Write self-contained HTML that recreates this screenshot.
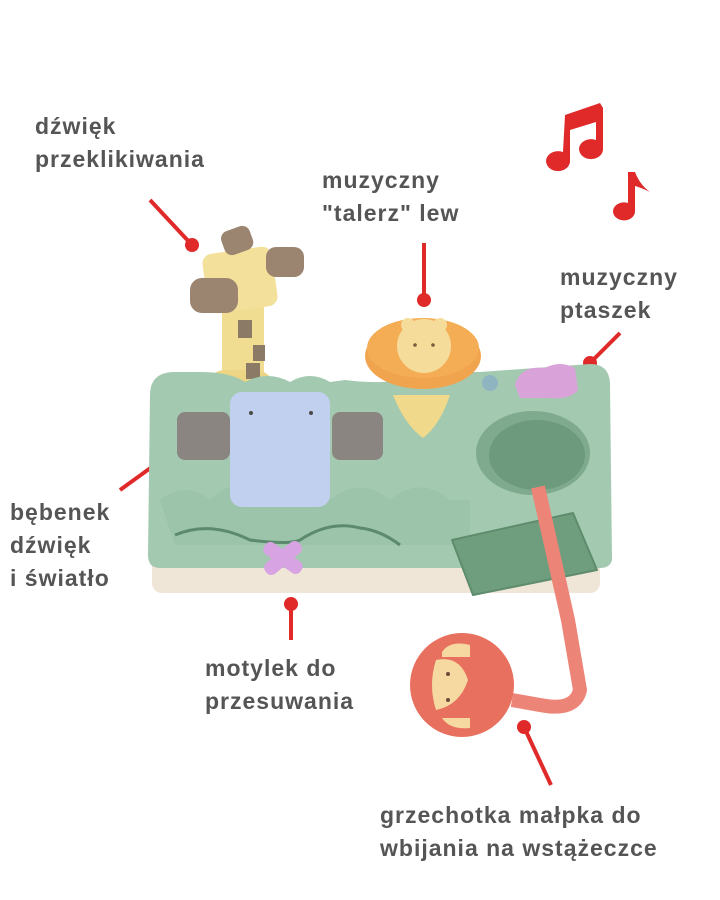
<!DOCTYPE html>
<html><head><meta charset="utf-8"><style>
html,body{margin:0;padding:0;background:#fff;}
body{width:720px;height:900px;position:relative;overflow:hidden;font-family:"Liberation Sans",sans-serif;}
.t{position:absolute;font-weight:bold;font-size:23px;color:#555;line-height:33px;white-space:nowrap;letter-spacing:1px}
svg{position:absolute;left:0;top:0}
</style></head><body>
<svg width="720" height="900" viewBox="0 0 720 900">
<!-- music notes -->
<g fill="#e02a2a">
<path d="M565 115 L600 103 L603 108 L603 150 A12 10 0 1 1 596 140 L596 122 L570 130 L570 162 A12 10 0 1 1 563 152 Z"/>
<path d="M628 172 L635 172 Q640 185 650 192 Q642 188 635 186 L635 212 A11 9 0 1 1 628 203 Z"/>
</g>
<!-- connector lines -->
<g stroke="#e02a2a" stroke-width="4" fill="#e02a2a">
<line x1="150" y1="200" x2="192" y2="245"/><circle cx="192" cy="245" r="5"/>
<line x1="424" y1="243" x2="424" y2="300"/><circle cx="424" cy="300" r="5"/>
<line x1="620" y1="333" x2="590" y2="363"/><circle cx="590" cy="363" r="5"/>
<line x1="120" y1="490" x2="192" y2="438"/><circle cx="192" cy="438" r="5"/>
<line x1="291" y1="640" x2="291" y2="604"/><circle cx="291" cy="604" r="5"/>
<line x1="551" y1="785" x2="524" y2="727"/><circle cx="524" cy="727" r="5"/>
</g>
<!-- cream base -->
<rect x="152" y="555" width="448" height="38" rx="10" fill="#f0e6d8"/>
<!-- giraffe -->
<rect x="222" y="290" width="42" height="110" rx="14" fill="#f1dd92"/>
<rect x="205" y="370" width="70" height="50" rx="20" fill="#ecd584"/>
<rect x="238" y="320" width="14" height="18" fill="#8b7a66"/>
<rect x="253" y="345" width="12" height="16" fill="#8b7a66"/>
<rect x="246" y="363" width="14" height="16" fill="#8b7a66"/>
<rect x="205" y="250" width="70" height="60" rx="10" fill="#f3e09a" transform="rotate(-8 240 280)"/>
<rect x="190" y="278" width="48" height="35" rx="12" fill="#9b8470"/>
<rect x="266" y="247" width="38" height="30" rx="10" fill="#9b8470"/>
<rect x="222" y="228" width="30" height="25" rx="8" fill="#9b8470" transform="rotate(-20 237 240)"/>
<!-- green body -->
<path d="M150 395 Q150 372 175 372 L200 372 Q230 372 245 382 Q268 370 290 382 Q310 370 330 382 L345 380 Q380 385 420 378 Q445 360 470 372 L480 372 L590 364 Q610 364 610 385 L612 560 Q610 568 600 568 L160 568 Q148 568 148 555 Z" fill="#a3c9b0"/>
<path d="M160 500 Q185 480 210 500 Q240 470 270 500 Q300 475 330 500 Q360 475 390 500 Q420 475 450 500 L470 500 L470 545 L175 545 Z" fill="#9cc4aa"/>
<path d="M175 535 Q210 520 250 540 Q290 545 300 540 Q330 520 360 528 Q380 530 400 545" stroke="#5c8a6e" stroke-width="3" fill="none"/>
<!-- hole -->
<ellipse cx="533" cy="453" rx="57" ry="42" fill="#7faa8e"/>
<ellipse cx="537" cy="455" rx="48" ry="35" fill="#6d9a7d"/>
<!-- lion stem -->
<path d="M393 395 L450 395 Q440 425 423 438 Q405 425 393 395 Z" fill="#f0d98a"/>
<!-- lion -->
<ellipse cx="423" cy="356" rx="58" ry="33" fill="#f1a44e"/>
<ellipse cx="423" cy="348" rx="56" ry="30" fill="#f4ad55"/>
<circle cx="424" cy="346" r="27" fill="#f5dc9a"/>
<circle cx="408" cy="325" r="7" fill="#f5dc9a"/><circle cx="440" cy="325" r="7" fill="#f5dc9a"/>
<circle cx="415" cy="345" r="1.8" fill="#7a5a3a"/><circle cx="433" cy="345" r="1.8" fill="#7a5a3a"/>
<!-- bird -->
<path d="M515 385 Q520 365 545 368 Q560 360 575 368 L578 390 Q570 400 550 398 L520 398 Z" fill="#d9a3d9"/>
<circle cx="490" cy="383" r="8" fill="#8fb5c2"/>
<!-- elephant cube -->
<rect x="230" y="392" width="100" height="115" rx="12" fill="#c2d0ef"/>
<rect x="177" y="412" width="53" height="48" rx="8" fill="#8a8581"/>
<rect x="332" y="412" width="51" height="48" rx="8" fill="#8a8581"/>
<circle cx="251" cy="413" r="2" fill="#4a4a4a"/><circle cx="311" cy="413" r="2" fill="#4a4a4a"/>
<!-- butterfly -->
<g fill="#d8a3e2" transform="translate(283 558)">
<rect x="-22" y="-7" width="44" height="14" rx="6" transform="rotate(35)"/>
<rect x="-22" y="-7" width="44" height="14" rx="6" transform="rotate(-40)"/>
</g>
<!-- leaf -->
<path d="M452 540 L573 513 L597 570 L473 595 Z" fill="#6f9e7e" stroke="#5e8c6c" stroke-width="2" stroke-linejoin="round"/>
<!-- strap -->
<path d="M538 487 L568 620 L580 690 Q575 712 540 705 L512 700" stroke="#ec8478" stroke-width="14" fill="none" stroke-linejoin="round"/>
<!-- monkey ball -->
<circle cx="462" cy="685" r="52" fill="#e8705e"/>
<path d="M436 660 Q460 655 468 680 Q460 705 436 710 Q428 685 436 660 Z" fill="#f5d9a0"/>
<path d="M442 652 Q450 640 470 645 L470 657 L442 657 Z" fill="#f5d9a0"/>
<path d="M442 718 L470 718 L470 728 Q450 730 442 718 Z" fill="#f5d9a0"/>
<circle cx="448" cy="674" r="2" fill="#6a4a3a"/><circle cx="448" cy="700" r="2" fill="#6a4a3a"/>
</svg>
<div class="t" style="left:35px;top:110px">dźwięk<br>przeklikiwania</div>
<div class="t" style="left:322px;top:164px">muzyczny<br>"talerz" lew</div>
<div class="t" style="left:560px;top:261px">muzyczny<br>ptaszek</div>
<div class="t" style="left:10px;top:496px">bębenek<br>dźwięk<br>i światło</div>
<div class="t" style="left:205px;top:652px">motylek do<br>przesuwania</div>
<div class="t" style="left:380px;top:799px">grzechotka małpka do<br>wbijania na wstążeczce</div>
</body></html>
